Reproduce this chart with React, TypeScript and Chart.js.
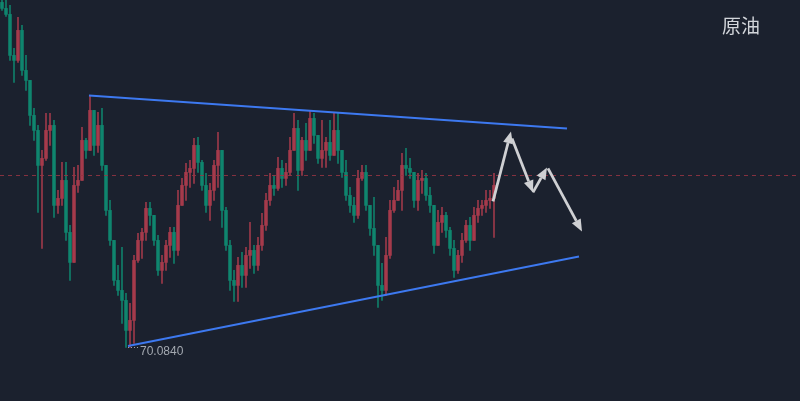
import React, { useEffect, useRef } from "react";
import { Chart, registerables } from "chart.js";

Chart.register(...registerables);

const TOTAL_SLOTS = 200;
const OPEN_FIRST = 73.52;

const closes = [
  73.46, 73.40, 72.99, 72.94, 73.24, 72.84, 72.74, 72.39, 72.24, 71.89,
  71.96, 72.24, 72.29, 71.49, 71.56, 71.74, 71.22, 70.92, 71.69, 71.74,
  72.14, 72.04, 72.44, 72.09, 72.29, 71.89, 71.44, 71.14, 70.74, 70.64,
  70.54, 70.24, 70.34, 70.94, 71.14, 71.22, 71.46, 71.39, 71.14, 70.84,
  70.92, 71.09, 71.22, 71.04, 71.49, 71.69, 71.82, 71.86, 72.09, 71.92,
  71.69, 71.49, 71.64, 71.89, 72.04, 71.44, 71.09, 70.74, 70.69, 70.89,
  70.79, 70.99, 71.04, 70.89, 71.09, 71.29, 71.54, 71.69, 71.66, 71.86,
  71.76, 71.82, 72.04, 72.26, 71.84, 72.14, 72.04, 72.36, 72.19, 71.96,
  72.04, 72.12, 71.99, 72.24, 72.04, 71.82, 71.59, 71.49, 71.39, 71.76,
  71.82, 71.49, 71.26, 71.09, 70.69, 70.64, 70.99, 71.44, 71.54, 71.64,
  71.89, 71.86, 71.82, 71.54, 71.74, 71.76, 71.59, 71.49, 71.09, 71.32,
  71.39, 71.24, 71.06, 70.84, 70.99, 71.14, 71.29, 71.14, 71.39, 71.46,
  71.49, 71.54, 71.56, 71.69,
];

const highs = [
  73.54, 73.54, 73.49, 73.06, 73.37, 73.29, 72.99, 72.74, 72.46, 72.29,
  72.04, 72.41, 72.41, 72.34, 71.64, 71.92, 71.92, 71.29, 71.87, 71.89,
  72.27, 72.16, 72.59, 72.34, 72.42, 72.46, 71.89, 71.54, 71.11, 70.89,
  71.07, 70.61, 70.51, 70.99, 71.21, 71.26, 71.52, 71.52, 71.39, 71.19,
  70.99, 71.14, 71.27, 71.27, 71.64, 71.76, 71.91, 71.94, 72.16, 72.17,
  71.94, 71.81, 71.71, 71.94, 72.22, 72.04, 71.47, 71.14, 70.84, 70.97,
  71.02, 71.07, 71.32, 71.09, 71.17, 71.41, 71.61, 71.81, 71.79, 71.97,
  71.94, 71.91, 72.17, 72.41, 72.34, 72.17, 72.31, 72.44, 72.41, 72.19,
  72.34, 72.17, 72.34, 72.41, 72.41, 72.04, 71.94, 71.67, 71.57, 71.84,
  71.89, 71.89, 71.49, 71.57, 71.09, 70.91, 71.17, 71.54, 71.67, 71.74,
  72.01, 72.06, 71.96, 71.82, 71.81, 71.84, 71.81, 71.67, 71.49, 71.44,
  71.47, 71.42, 71.27, 71.14, 71.04, 71.21, 71.34, 71.37, 71.47, 71.54,
  71.54, 71.64, 71.64, 71.81,
];

const lows = [
  73.44, 73.38, 72.94, 72.72, 72.92, 72.79, 72.64, 72.29, 72.14, 71.42,
  71.06, 71.94, 72.09, 71.37, 71.41, 71.49, 71.14, 70.74, 71.39, 71.62,
  71.84, 71.96, 72.19, 71.99, 72.02, 71.84, 71.39, 71.09, 70.69, 70.59,
  70.31, 70.07, 70.07, 70.11, 70.92, 70.96, 71.14, 71.29, 71.09, 70.79,
  70.71, 70.84, 70.97, 70.91, 70.99, 71.49, 71.54, 71.67, 71.71, 71.82,
  71.64, 71.42, 71.34, 71.54, 71.67, 71.27, 71.04, 70.64, 70.53, 70.53,
  70.67, 70.67, 70.86, 70.81, 70.84, 71.04, 71.24, 71.49, 71.59, 71.64,
  71.67, 71.69, 71.79, 72.04, 71.64, 71.79, 71.94, 72.17, 72.11, 71.91,
  71.87, 71.87, 71.94, 72.11, 71.91, 71.77, 71.54, 71.42, 71.32, 71.36,
  71.74, 71.44, 71.19, 70.99, 70.47, 70.54, 70.59, 70.96, 71.42, 71.54,
  71.44, 71.79, 71.76, 71.47, 71.44, 71.61, 71.54, 71.42, 71.01, 71.09,
  71.22, 71.17, 70.99, 70.77, 70.81, 70.92, 71.12, 71.04, 71.19, 71.32,
  71.39, 71.42, 71.46, 71.17,
];

const Y_MAX = 73.544;
const Y_MIN = 69.534;
const CURRENT_PRICE = 71.79;

// trend lines: [index, price]
const upperLine = [[21.75, 72.59], [141.25, 72.26]];
const lowerLine = [[31.5, 70.084], [144.25, 70.98]];
// projected path arrows: [from, to]
const arrows = [
  [[122.75, 71.53], [127.25, 72.23]],
  [[127.5, 72.16], [132.75, 71.62]],
  [[132.75, 71.62], [136.25, 71.87]],
  [[136.5, 71.86], [145.0, 71.23]],
];
const TITLE = "原油";
const LOW_LABEL = "70.0840";

const UP = "rgba(170,60,76,0.9)";
const DOWN = "rgba(16,136,112,0.9)";
const BG = "#1b212e";

export default function App() {
  const ref = useRef<HTMLCanvasElement | null>(null);

  useEffect(() => {
    document.body.style.margin = "0";
    const labels = Array.from({ length: TOTAL_SLOTS }, (_, i) => String(i));
    const opens = closes.map((_, i) => (i === 0 ? OPEN_FIRST : closes[i - 1]));
    const bodies: any[] = labels.map((_, i) =>
      i < closes.length ? [opens[i], closes[i]] : null
    );
    const wicks: any[] = labels.map((_, i) =>
      i < closes.length
        ? [
            Math.min(lows[i], opens[i], closes[i]),
            Math.max(highs[i], opens[i], closes[i]),
          ]
        : null
    );
    const colors = labels.map((_, i) =>
      i < closes.length ? (closes[i] >= opens[i] ? UP : DOWN) : UP
    );

    const overlay = {
      id: "overlay",
      beforeDraw(chart: any) {
        const { ctx, width, height } = chart;
        ctx.save();
        ctx.fillStyle = BG;
        ctx.fillRect(0, 0, width, height);
        ctx.restore();
      },
      afterDatasetsDraw(chart: any) {
        const { ctx, width } = chart;
        const xs = chart.scales.x;
        const ys = chart.scales.y;
        const px = (v: number) => xs.getPixelForValue(v);
        const py = (v: number) => ys.getPixelForValue(v);
        ctx.save();
        // current price dashed line
        ctx.strokeStyle = "rgba(150,52,66,0.85)";
        ctx.lineWidth = 1;
        ctx.setLineDash([4, 4]);
        const cy = Math.round(py(CURRENT_PRICE)) + 0.5;
        ctx.beginPath();
        ctx.moveTo(0, cy);
        ctx.lineTo(width, cy);
        ctx.stroke();
        ctx.setLineDash([]);

        // trend lines
        ctx.strokeStyle = "#3d79f0";
        ctx.lineWidth = 2;
        for (const ln of [upperLine, lowerLine]) {
          ctx.beginPath();
          ctx.moveTo(px(ln[0][0]), py(ln[0][1]));
          ctx.lineTo(px(ln[1][0]), py(ln[1][1]));
          ctx.stroke();
        }

        // arrows
        ctx.strokeStyle = "#cfd0d3";
        ctx.fillStyle = "#cfd0d3";
        ctx.lineWidth = 2.8;
        for (const a of arrows) {
          const x1 = px(a[0][0]);
          const y1 = py(a[0][1]);
          const x2 = px(a[1][0]);
          const y2 = py(a[1][1]);
          const ang = Math.atan2(y2 - y1, x2 - x1);
          const hl = 12;
          const hw = 5;
          const bx = x2 - hl * Math.cos(ang);
          const by = y2 - hl * Math.sin(ang);
          ctx.beginPath();
          ctx.moveTo(x1, y1);
          ctx.lineTo(bx, by);
          ctx.stroke();
          ctx.beginPath();
          ctx.moveTo(x2, y2);
          ctx.lineTo(bx + hw * Math.sin(ang), by - hw * Math.cos(ang));
          ctx.lineTo(bx - hw * Math.sin(ang), by + hw * Math.cos(ang));
          ctx.closePath();
          ctx.fill();
        }

        // low label
        const lx = px(lowerLine[0][0]);
        const ly = py(lowerLine[0][1]);
        ctx.strokeStyle = "#9aa0a8";
        ctx.lineWidth = 1;
        ctx.setLineDash([1, 2]);
        ctx.beginPath();
        ctx.moveTo(lx, ly + 1.5);
        ctx.lineTo(lx + 10, ly + 1.5);
        ctx.stroke();
        ctx.setLineDash([]);
        ctx.fillStyle = "#a3a8b0";
        ctx.font = "12px 'Liberation Sans', Arial, sans-serif";
        ctx.textAlign = "left";
        ctx.textBaseline = "middle";
        ctx.fillText(LOW_LABEL, lx + 12, ly + 6);

        // title
        ctx.fillStyle = "#d2d5da";
        ctx.font = "19px 'Noto Sans CJK SC', sans-serif";
        ctx.textAlign = "center";
        ctx.textBaseline = "middle";
        ctx.fillText(TITLE, 741, 26);
        ctx.restore();
      },
    };

    const chart = new Chart(ref.current as HTMLCanvasElement, {
      type: "bar",
      data: {
        labels,
        datasets: [
          {
            data: wicks,
            backgroundColor: colors,
            barThickness: 1,
            grouped: false,
            borderWidth: 0,
          } as any,
          {
            data: bodies,
            backgroundColor: colors,
            barThickness: 3,
            grouped: false,
            borderWidth: 0,
            minBarLength: 1,
          } as any,
        ],
      },
      options: {
        animation: false,
        responsive: true,
        maintainAspectRatio: false,
        layout: { padding: 0 },
        plugins: { legend: { display: false }, tooltip: { enabled: false } },
        scales: {
          x: { display: false, offset: true },
          y: { display: false, min: Y_MIN, max: Y_MAX },
        },
      },
      plugins: [overlay],
    });
    return () => chart.destroy();
  }, []);

  return (
    <div style={{ position: "relative", width: 800, height: 401, background: BG }}>
      <canvas ref={ref} />
    </div>
  );
}
